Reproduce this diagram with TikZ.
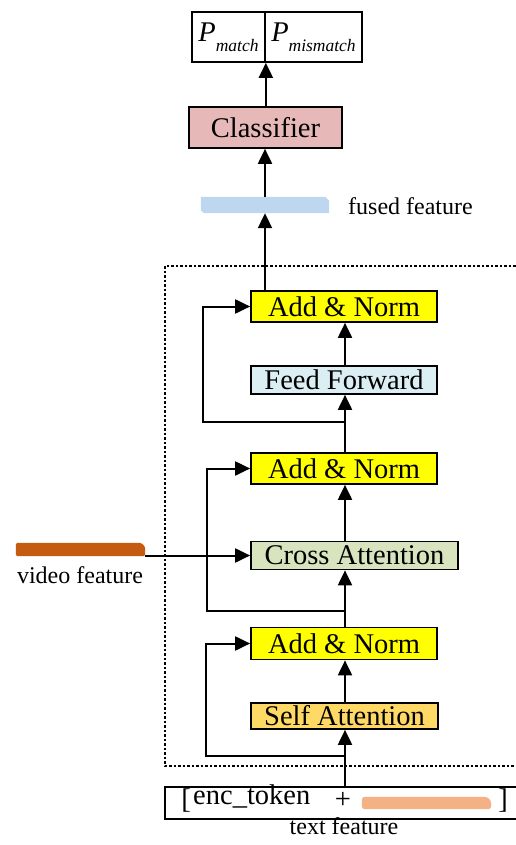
\documentclass[tikz,border=0pt]{standalone}
\usepackage{fontspec}
\setmainfont{Liberation Serif}
\usetikzlibrary{arrows.meta,calc}
\definecolor{clsc}{HTML}{E6B9B8}
\definecolor{addc}{HTML}{FFFF00}
\definecolor{ffc}{HTML}{DAEEF3}
\definecolor{cac}{HTML}{D7E4BD}
\definecolor{sac}{HTML}{FFD966}
\definecolor{fusedc}{HTML}{BDD7EE}
\definecolor{vidc}{HTML}{C55A11}
\definecolor{txtc}{HTML}{F4B183}
\begin{document}
\begin{tikzpicture}[x=1pt,y=-1pt,
  box/.style={draw, line width=1.7pt, inner sep=0pt, font=\fontsize{28.5}{30}\selectfont},
  arr/.style={line width=2pt, -{Triangle[length=15pt,width=14pt]}},
  lbl/.style={font=\fontsize{24}{26}\selectfont, inner sep=0pt},
  bar/.style={inner sep=0pt}]
\useasboundingbox (0,0) rectangle (516,845);
% top output cells
\node[box, minimum width=73pt, minimum height=50pt] (pm) at (228.5,37)
  {\itshape P\raisebox{-10pt}{\fontsize{17.5}{17.5}\selectfont match}};
\node[box, minimum width=97pt, minimum height=50pt] (pmm) at (313.5,37)
  {\itshape P\raisebox{-10pt}{\fontsize{17.5}{17.5}\selectfont mismatch}};
\node[box, fill=clsc, minimum width=153pt, minimum height=41pt] (cls) at (265.5,127.5) {Classifier};
% fused feature
\node[bar, minimum width=128pt, minimum height=16pt] (fused) at (265,205) {};
\fill[fusedc] ($(fused.south west)+(3,0)$) -- ($(fused.south west)+(0,-3)$) -- (fused.north west)
  -- ($(fused.north east)+(-4,0)$) -- ($(fused.north east)+(0,4)$) -- (fused.south east) -- cycle;
\node[lbl, anchor=base west] (fusedl) at (348,214) {fused feature};
% encoder block
\draw[line width=1.5pt, dash pattern=on 2.5pt off 2pt] (165,266) rectangle (540,766);
\node[box, fill=addc, minimum width=186pt, minimum height=31pt] (an1) at (344,306.5) {Add \& Norm};
\node[box, fill=ffc, minimum width=186pt, minimum height=28pt] (ff) at (344,380) {Feed Forward};
\node[box, fill=addc, minimum width=186pt, minimum height=31pt] (an2) at (344,468.5) {Add \& Norm};
\node[box, fill=cac, minimum width=207pt, minimum height=28pt] (ca) at (354.5,555.5) {Cross Attention};
\node[box, fill=addc, minimum width=186pt, minimum height=32pt] (an3) at (344,643.5) {Add \& Norm};
\node[box, fill=sac, minimum width=187pt, minimum height=26pt] (sa) at (344.5,716) {Self Attention};
% video feature
\node[bar, minimum width=129pt, minimum height=13pt] (vid) at (80.5,549.5) {};
\fill[vidc, rounded corners=1.5pt] (vid.south west) -- (vid.north west) -- ($(vid.north east)+(-4,0)$)
  -- ($(vid.north east)+(0,4)$) -- (vid.south east) -- cycle;
\node[lbl, anchor=base] (vidl) at (80,583) {video feature};
% text feature
\node[box, minimum width=375pt, minimum height=32pt] (txt) at (352.5,803) {};
\node[inner sep=0pt, font=\fontsize{28.5}{30}\selectfont] (lb) at (186,801) {[};
\node[inner sep=0pt, font=\fontsize{28.5}{30}\selectfont, anchor=base west] (enc) at (193,804) {enc\_token};
\node[inner sep=0pt, font=\fontsize{28.5}{30}\selectfont] (plus) at (343,800) {+};
\node[bar, minimum width=129pt, minimum height=12pt] (tbar) at (426.5,803) {};
\fill[txtc, rounded corners=3pt] (tbar.south west) -- (tbar.north west) -- ($(tbar.north east)+(-4,0)$)
  -- ($(tbar.north east)+(0,4)$) -- (tbar.south east) -- cycle;
\node[inner sep=0pt, font=\fontsize{28.5}{30}\selectfont] (rb) at (503,801) {]};
\node[lbl, anchor=base] (txtl) at (344,834) {text feature};
% coordinates for residual branches
\coordinate (b1) at (345,756);
\coordinate (b2) at (345,611);
\coordinate (b3) at (345,422);
% main flow
\draw[arr] (txt.north -| b1) -- (sa.south -| b1);
\draw[arr] (sa.north -| b1) -- (an3.south -| b1);
\draw[arr] (an3.north -| b1) -- (ca.south -| b1);
\draw[arr] (ca.north -| b1) -- (an2.south -| b1);
\draw[arr] (an2.north -| b1) -- (ff.south -| b1);
\draw[arr] (ff.north -| b1) -- (an1.south -| b1);
\draw[arr] (an1.north -| fused.south) -- (fused.south);
\draw[arr] (fused.north) -- (cls.south -| fused.north);
\draw[arr] (cls.north -| pm.east) -- (pm.south east);
% residuals
\draw[arr] (b1) -- (206,756) |- (an3.west);
\draw[arr] (b2) -- (207,611) |- (an2.west);
\draw[arr] (b3) -- (203,422) |- (an1.west);
% video to cross attention
\draw[arr] (vid.east |- ca.west) -- (ca.west);
\end{tikzpicture}
\end{document}
